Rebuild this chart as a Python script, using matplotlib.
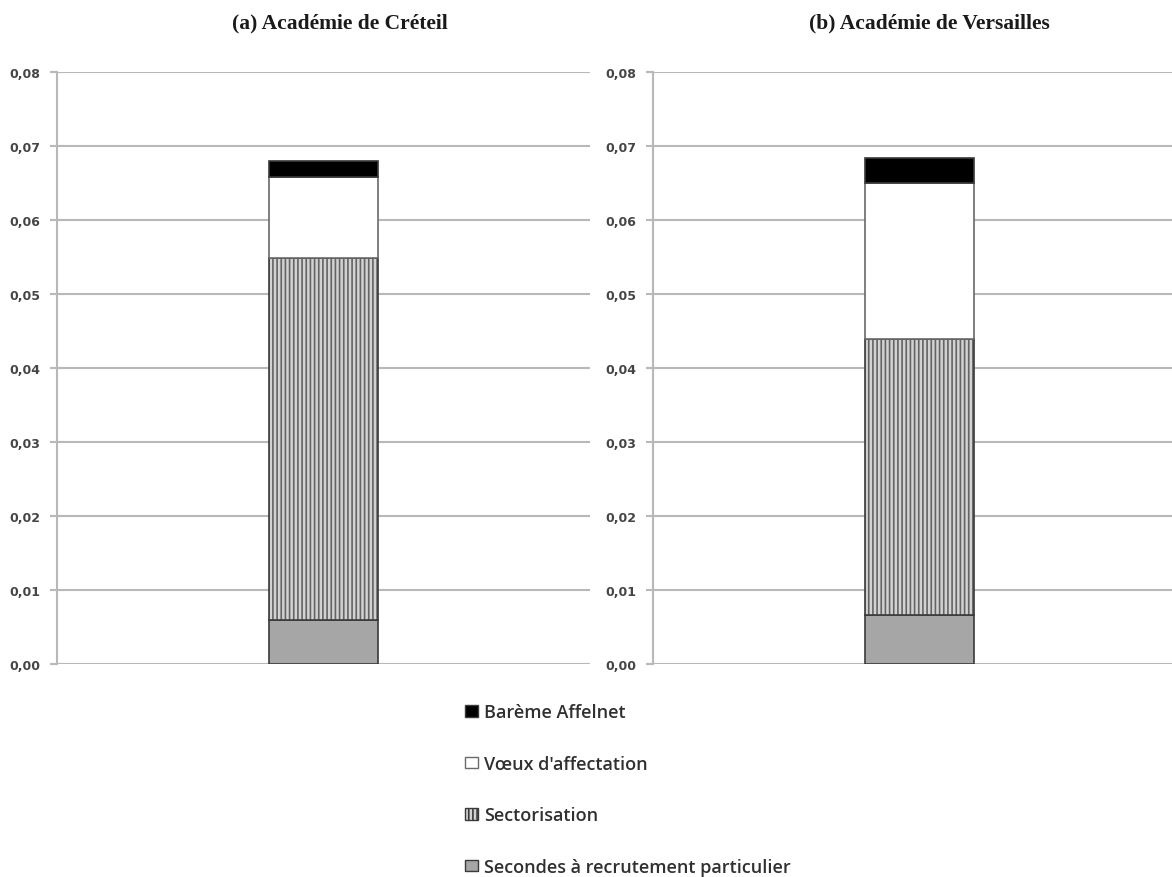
import matplotlib
matplotlib.use("Agg")
import matplotlib.pyplot as plt
from matplotlib.patches import Patch
from matplotlib.ticker import FixedLocator

plt.rcParams['hatch.linewidth'] = 1.2

# Components of each stacked bar (bottom to top)
components = ["Secondes à recrutement particulier", "Sectorisation",
              "Vœux d'affectation", "Barème Affelnet"]
creteil = [0.0059, 0.0490, 0.0109, 0.0022]
versailles = [0.0066, 0.0373, 0.0211, 0.0034]
titles = ["(a) Académie de Créteil", "(b) Académie de Versailles"]
yticks = [0.00, 0.01, 0.02, 0.03, 0.04, 0.05, 0.06, 0.07, 0.08]
ytick_labels = ["0,00", "0,01", "0,02", "0,03", "0,04", "0,05", "0,06", "0,07", "0,08"]

styles = [
    dict(facecolor="#a6a6a6", edgecolor="#3a3a3a", hatch=None),
    dict(facecolor="#d2d2d2", edgecolor="#3a3a3a", hatch="||||"),
    dict(facecolor="white", edgecolor="#6a6a6a", hatch=None),
    dict(facecolor="black", edgecolor="#3a3a3a", hatch=None),
]

fig = plt.figure(figsize=(11.72, 8.78), dpi=100)
ax_left = fig.add_axes([57 / 1172, 1 - 665 / 878, 533 / 1172, (665 - 72.7) / 878])
ax_right = fig.add_axes([653 / 1172, 1 - 665 / 878, 533 / 1172, (665 - 72.7) / 878])

grid_col = "#b8b8b8"
for ax, vals, title, tx in [(ax_left, creteil, titles[0], 340 / 1172),
                            (ax_right, versailles, titles[1], 929 / 1172)]:
    bottom = 0.0
    for v, st in zip(vals, styles):
        b = ax.bar(0.5, v, width=0.206, bottom=bottom, facecolor=st["facecolor"],
                   edgecolor=st["edgecolor"], linewidth=1.2, zorder=3)
        if st["hatch"]:
            for p in b:
                p.set_hatch(st["hatch"])
                p._hatch_color = matplotlib.colors.to_rgba("#646464")
        bottom += v
    ax.set_xlim(0, 1)
    ax.set_ylim(0, 0.08)
    ax.yaxis.set_major_locator(FixedLocator(yticks))
    ax.set_yticklabels(ytick_labels)
    ax.set_xticks([])
    ax.grid(axis="y", color=grid_col, linewidth=1.5, zorder=0)
    for s in ["top", "right", "bottom"]:
        ax.spines[s].set_visible(False)
    ax.spines["left"].set_color(grid_col)
    ax.spines["left"].set_linewidth(1.5)
    ax.tick_params(axis="y", length=5, width=1.5, color=grid_col,
                   labelsize=9, labelcolor="#454545", pad=7)
    for lbl in ax.get_yticklabels():
        lbl.set_fontweight("bold")
    fig.text(tx, 1 - 23 / 878, title, ha="center", va="center",
             fontsize=15.5, fontweight="bold", family="Liberation Serif", color="#1a1a1a")

# Legend, listed top to bottom
handles = []
for name, st in list(zip(components, styles))[::-1]:
    h = Patch(facecolor=st["facecolor"], edgecolor=st["edgecolor"],
              hatch=st["hatch"], linewidth=1.0, label=name)
    handles.append(h)
leg = fig.legend(handles=handles, loc="upper left",
                 bbox_to_anchor=(449 / 1172, 1 - 688 / 878),
                 frameon=False, labelspacing=1.86,
                 handlelength=0.7, handleheight=0.6, handletextpad=0.35,
                 prop=dict(family="Open Sans", size=13, weight="semibold"))
for t in leg.get_texts():
    t.set_color("#303030")

fig.savefig("out.png", dpi=100)
